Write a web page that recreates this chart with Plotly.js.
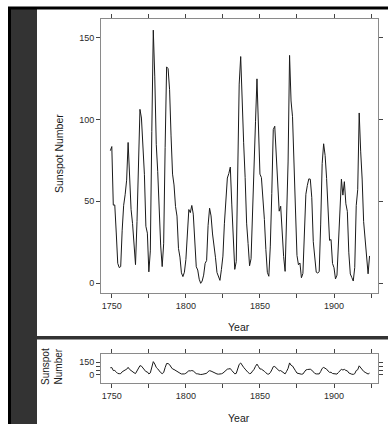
<!DOCTYPE html>
<html><head><meta charset="utf-8">
<script src="https://cdn.plot.ly/plotly-3.0.1.min.js"></script>
<style>html,body{margin:0;padding:0;background:#fff;overflow:hidden;}#chart{width:388px;height:424px;}</style>
</head><body><div id="chart"></div>
<script>
const years = [1749,1750,1751,1752,1753,1754,1755,1756,1757,1758,1759,
1760,1761,1762,1763,1764,1765,1766,1767,1768,1769,
1770,1771,1772,1773,1774,1775,1776,1777,1778,1779,
1780,1781,1782,1783,1784,1785,1786,1787,1788,1789,
1790,1791,1792,1793,1794,1795,1796,1797,1798,1799,
1800,1801,1802,1803,1804,1805,1806,1807,1808,1809,
1810,1811,1812,1813,1814,1815,1816,1817,1818,1819,
1820,1821,1822,1823,1824,1825,1826,1827,1828,1829,
1830,1831,1832,1833,1834,1835,1836,1837,1838,1839,
1840,1841,1842,1843,1844,1845,1846,1847,1848,1849,
1850,1851,1852,1853,1854,1855,1856,1857,1858,1859,
1860,1861,1862,1863,1864,1865,1866,1867,1868,1869,
1870,1871,1872,1873,1874,1875,1876,1877,1878,1879,
1880,1881,1882,1883,1884,1885,1886,1887,1888,1889,
1890,1891,1892,1893,1894,1895,1896,1897,1898,1899,
1900,1901,1902,1903,1904,1905,1906,1907,1908,1909,
1910,1911,1912,1913,1914,1915,1916,1917,1918,1919,
1920,1921,1922,1923,1924];
const sunspots = [80.9,83.4,47.7,47.8,30.7,12.2,9.6,10.2,32.4,47.6,54.0,
62.9,85.9,61.2,45.1,36.4,20.9,11.4,37.8,69.8,106.1,
100.8,81.6,66.5,34.8,30.6,7.0,19.8,92.5,154.4,125.9,
84.8,68.1,38.5,22.8,10.2,24.1,82.9,132.0,130.9,118.1,
89.9,66.6,60.0,46.9,41.0,21.3,16.0,6.4,4.1,6.8,
14.5,34.0,45.0,43.1,47.5,42.2,28.1,10.1,8.1,2.5,
0.0,1.4,5.0,12.2,13.9,35.4,45.8,41.1,30.1,23.9,
15.6,6.6,4.0,1.8,8.5,16.6,36.3,49.6,64.2,67.0,
70.9,47.8,27.5,8.5,13.2,56.9,121.5,138.3,103.2,85.7,
64.6,36.7,24.2,10.7,15.0,40.1,61.5,98.5,124.7,96.3,
66.6,64.5,54.1,39.0,20.6,6.7,4.3,22.7,54.8,93.8,
95.8,77.2,59.1,44.0,47.0,30.5,16.3,7.3,37.6,74.0,
139.0,111.2,101.6,66.2,44.7,17.0,11.3,12.4,3.4,6.0,
32.3,54.3,59.7,63.7,63.5,52.2,25.4,13.1,6.8,6.3,
7.1,35.6,73.0,85.1,78.0,64.0,41.8,26.2,26.7,12.1,
9.5,2.7,5.0,24.4,42.0,63.5,53.8,62.0,48.5,43.9,
18.6,5.7,3.6,1.4,9.6,47.4,57.1,103.9,80.6,63.6,
37.6,26.1,14.2,5.8,16.7];
const xTickVals = [1750,1775,1800,1825,1850,1875,1900,1925];
const xTickText = ['1750','','1800','','1850','','1900',''];
const yTickValsTop = [0,50,100,150];
const yTickTextTop = ['0','50','100','150'];
const yTickValsBottom = [0,50,100,150];
const yTickTextBottom = ['0','','','150'];
const yTitle = 'Sunspot Number';
const yTitleShort = 'Sunspot<br>Number';
const xTitle = 'Year';

const W = 388, H = 424;
const px = v => v / W;
const py = v => 1 - v / H;
const FONT = 'Liberation Sans, Arial, Helvetica, sans-serif';

const axisBase = {
  showline: true, linecolor: '#8a8a8a', linewidth: 1, mirror: 'ticks',
  ticks: 'outside', ticklen: 4, tickwidth: 1, tickcolor: '#444',
  showgrid: false, zeroline: false, fixedrange: true,
  tickfont: {family: FONT, size: 9, color: '#2a2a2a'}
};

const lineStyle = {color: '#1a1a1a', width: 1};

const traces = [
  {x: years, y: sunspots, type: 'scatter', mode: 'lines', line: lineStyle,
   xaxis: 'x', yaxis: 'y', hoverinfo: 'skip'},
  {x: years, y: sunspots, type: 'scatter', mode: 'lines', line: lineStyle,
   xaxis: 'x2', yaxis: 'y2', hoverinfo: 'skip'}
];

const layout = {
  width: W, height: H,
  margin: {l: 0, r: 0, t: 0, b: 0},
  paper_bgcolor: '#ffffff', plot_bgcolor: '#ffffff',
  showlegend: false,
  xaxis: Object.assign({}, axisBase, {domain: [px(101), px(378)], range: [1742.7, 1929.7],
    tickvals: xTickVals, ticktext: xTickText, anchor: 'y'}),
  yaxis: Object.assign({}, axisBase, {domain: [py(293), py(19)], range: [-5.9, 161.2],
    tickvals: yTickValsTop, ticktext: yTickTextTop, anchor: 'x'}),
  xaxis2: Object.assign({}, axisBase, {domain: [px(101), px(378)], range: [1742.7, 1929.7],
    tickvals: xTickVals, ticktext: xTickText, anchor: 'y2'}),
  yaxis2: Object.assign({}, axisBase, {domain: [py(383), py(354)], range: [-102, 246],
    tickvals: yTickValsBottom, ticktext: yTickTextBottom, anchor: 'x2'}),
  shapes: [
    {type: 'rect', xref: 'paper', yref: 'paper', x0: px(11), x1: px(37), y0: 0, y1: py(7), fillcolor: '#333333', line: {width: 0}},
    {type: 'rect', xref: 'paper', yref: 'paper', x0: px(8), x1: px(11), y0: 0, y1: py(7), fillcolor: '#000000', line: {width: 0}},
    {type: 'rect', xref: 'paper', yref: 'paper', x0: px(8), x1: 1, y0: py(9.5), y1: py(6.5), fillcolor: '#000000', line: {width: 0}},
    {type: 'rect', xref: 'paper', yref: 'paper', x0: px(37), x1: 1, y0: py(339.5), y1: py(336), fillcolor: '#333333', line: {width: 0}}
  ],
  annotations: [
    {text: yTitle, xref: 'paper', yref: 'paper', x: px(59), y: py(153), textangle: -90,
     showarrow: false, xanchor: 'center', yanchor: 'middle', font: {family: FONT, size: 10.5, color: '#1a1a1a'}},
    {text: xTitle, xref: 'paper', yref: 'paper', x: px(239), y: py(327), showarrow: false,
     xanchor: 'center', yanchor: 'middle', font: {family: FONT, size: 10.5, color: '#1a1a1a'}},
    {text: yTitleShort, xref: 'paper', yref: 'paper', x: px(52), y: py(367), textangle: -90,
     showarrow: false, xanchor: 'center', yanchor: 'middle', font: {family: FONT, size: 10, color: '#1a1a1a'}},
    {text: xTitle, xref: 'paper', yref: 'paper', x: px(239), y: py(418), showarrow: false,
     xanchor: 'center', yanchor: 'middle', font: {family: FONT, size: 10.5, color: '#1a1a1a'}}
  ]
};

Plotly.newPlot('chart', traces, layout, {displayModeBar: false, staticPlot: true});
</script></body></html>
